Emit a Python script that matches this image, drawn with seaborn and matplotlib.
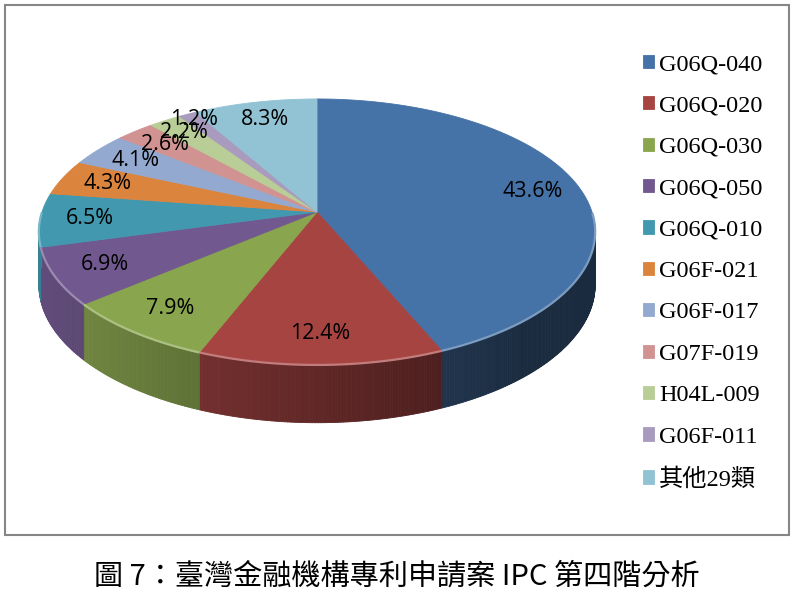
import numpy as np
import matplotlib
matplotlib.use("Agg")
import matplotlib.pyplot as plt
import seaborn as sns
from matplotlib.transforms import Transform
from matplotlib.path import Path
from matplotlib.collections import PolyCollection
from matplotlib.patches import Rectangle
from matplotlib.font_manager import FontProperties

# ---------------- data ----------------
categories = ["G06Q-040", "G06Q-020", "G06Q-030", "G06Q-050", "G06Q-010",
              "G06F-021", "G06F-017", "G07F-019", "H04L-009", "G06F-011",
              "其他29類"]
shares = [43.6, 12.4, 7.9, 6.9, 6.5, 4.3, 4.1, 2.6, 2.2, 1.2, 8.3]
hex_colors = ["#4572A7", "#A64442", "#89A54E", "#71588F", "#4198AF",
              "#DB843D", "#93A9CF", "#D19392", "#B9CD96", "#A99BBD",
              "#92C3D4"]
caption = "圖 7：臺灣金融機構專利申請案 IPC 第四階分析"

# ---------------- style ----------------
sns.set_theme(style="white")
plt.rcParams['font.family'] = ['Open Sans', 'Noto Sans CJK TC', 'DejaVu Sans']
palette = sns.color_palette(hex_colors)

W, H = 794, 593
fig = plt.figure(figsize=(W / 100, H / 100), dpi=100)
fig.patch.set_facecolor('white')
ax = fig.add_axes([0, 0, 1, 1])


class TiltedDisk(Transform):
    """Maps the unit pie disk onto a tilted (perspective) ellipse in pixel data coords."""
    input_dims = 2
    output_dims = 2

    def __init__(self, cx, cy, a, b, k):
        super().__init__()
        self.cx, self.cy, self.a, self.b, self.k = cx, cy, a, b, k

    def transform_non_affine(self, values):
        values = np.asarray(values, float).reshape(-1, 2)
        u = values[:, 0]
        v = -values[:, 1]
        d = 1.0 - self.k * v
        return np.column_stack([self.cx + self.a * u / d, self.cy + self.b * v / d])

    def transform_path_non_affine(self, path):
        pts, codes = [], []
        cur = start = None
        for seg, code in path.iter_segments(simplify=False, curves=True):
            seg = np.asarray(seg, float)
            if code == Path.MOVETO:
                cur = seg[-2:]
                start = cur
                pts.append(cur); codes.append(Path.MOVETO)
            elif code == Path.LINETO:
                cur = seg[-2:]
                pts.append(cur); codes.append(Path.LINETO)
            elif code == Path.CURVE3:
                p0, p1, p2 = cur, seg[0:2], seg[2:4]
                s = np.linspace(0, 1, 25)[1:, None]
                b = (1 - s) ** 2 * p0 + 2 * (1 - s) * s * p1 + s ** 2 * p2
                pts.extend(b); codes.extend([Path.LINETO] * len(b)); cur = p2
            elif code == Path.CURVE4:
                p0, p1, p2, p3 = cur, seg[0:2], seg[2:4], seg[4:6]
                s = np.linspace(0, 1, 25)[1:, None]
                b = ((1 - s) ** 3 * p0 + 3 * (1 - s) ** 2 * s * p1
                     + 3 * (1 - s) * s ** 2 * p2 + s ** 3 * p3)
                pts.extend(b); codes.extend([Path.LINETO] * len(b)); cur = p3
            elif code == Path.CLOSEPOLY:
                pts.append(start); codes.append(Path.CLOSEPOLY)
        verts = self.transform_non_affine(np.array(pts))
        return Path(verts, codes)


PCT_DIST = 0.82
wedges, _, autotexts = ax.pie(
    shares, colors=palette, startangle=90, counterclock=False,
    autopct='%1.1f%%', pctdistance=PCT_DIST,
    wedgeprops=dict(linewidth=0.6),
    textprops=dict(fontsize=15.5, family=['Open Sans'], color='black'))

persp = TiltedDisk(317, 212, 275, 130, 0.15)
tr = persp + ax.transData
for w, c in zip(wedges, palette):
    w.set_transform(tr)
    w.set_edgecolor(c)
    w.set_zorder(2)
for t in autotexts:
    t.set_transform(tr)
    t.set_zorder(5)

# ---- 3D side walls and rim highlight ----
for w, c in zip(wedges, palette):
    base = np.array(c[:3])
    n = max(3, int(abs(w.theta2 - w.theta1) / 0.5) + 2)
    t = np.radians(np.linspace(w.theta1, w.theta2, n))
    mask = np.sin(t) <= 0.0
    if mask.sum() < 2:
        continue
    uv = np.column_stack([np.cos(t), np.sin(t)])
    P = persp.transform(uv)
    v = -uv[:, 1]
    depth = 52.0 / (1.0 - 0.1 * v)
    B = P + np.column_stack([np.zeros_like(depth), depth])
    quads, cols = [], []
    for i in range(n - 1):
        if mask[i] and mask[i + 1]:
            quads.append([P[i], P[i + 1], B[i + 1], B[i]])
            um = 0.5 * (uv[i, 0] + uv[i + 1, 0])
            shade = np.clip(0.58 - 0.3 * um, 0.38, 0.85)
            cols.append(tuple(base * shade))
    pc = PolyCollection(quads, facecolors=cols, edgecolors=cols, linewidths=0.6, zorder=1)
    ax.add_collection(pc)
    rim = base + (1 - base) * 0.3
    ax.plot(P[mask, 0], P[mask, 1], color=rim, lw=1.6, zorder=3, solid_capstyle='butt')

ax.set_aspect('auto')
ax.set_xlim(0, W)
ax.set_ylim(H, 0)
ax.axis('off')

# ---- push small-slice labels outward when they pile on the previous one ----
fig.canvas.draw()
renderer = fig.canvas.get_renderer()
mids = [np.radians(0.5 * (w.theta1 + w.theta2)) for w in wedges]
radii = [PCT_DIST] * len(wedges)
for i in range(1, len(autotexts)):
    prev = autotexts[i - 1].get_window_extent(renderer).shrunk(1.0, 0.6)
    for _ in range(8):
        bb = autotexts[i].get_window_extent(renderer).shrunk(1.0, 0.6)
        ix = max(0.0, min(bb.x1, prev.x1) - max(bb.x0, prev.x0))
        iy = max(0.0, min(bb.y1, prev.y1) - max(bb.y0, prev.y0))
        if ix * iy <= 0.1 * bb.width * bb.height:
            break
        radii[i] += 0.04
        autotexts[i].set_position((radii[i] * np.cos(mids[i]), radii[i] * np.sin(mids[i])))

# ---- legend ----
leg = ax.legend(wedges, categories, loc='upper left',
                bbox_to_anchor=(643 / W, 1 - 54 / H), bbox_transform=fig.transFigure,
                frameon=False,
                prop=FontProperties(family=['Liberation Serif', 'Noto Sans CJK TC'], size=17.5),
                handlelength=0.46, handleheight=0.46, handletextpad=0.2,
                labelspacing=0.84, borderpad=0, borderaxespad=0)
for txt in leg.get_texts():
    txt.set_color('black')

# ---- chart border ----
fig.add_artist(Rectangle((5 / W, 1 - 535 / H), 784 / W, 530 / H,
                         transform=fig.transFigure, fill=False,
                         edgecolor='#868686', linewidth=1.5))

# ---- caption ----
fig.text(0.5, 1 - 577 / H, caption, ha='center', va='center', fontsize=21,
         family=['Noto Sans CJK TC', 'DejaVu Sans'], color='black')

fig.savefig('out.png', dpi=100)
